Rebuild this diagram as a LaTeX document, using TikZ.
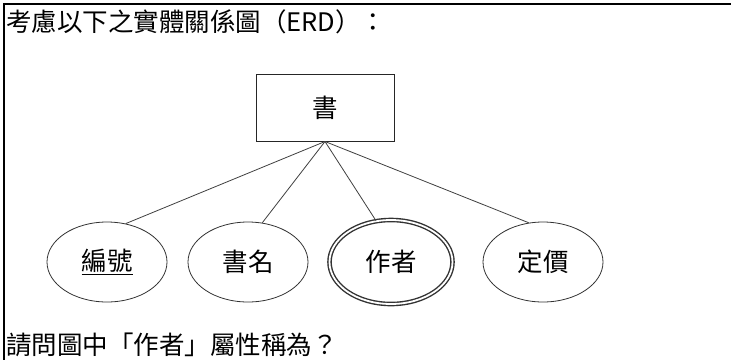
\documentclass[tikz,border=0pt]{standalone}
\usepackage{fontspec}
\newfontfamily\cjk{Noto Sans CJK TC}
\usetikzlibrary{shapes.geometric}
\tikzset{
  txt/.style={font=\cjk\fontsize{25.5}{27}\selectfont, inner sep=0pt, text=black},
  entity/.style={draw=black!85, line width=1pt, minimum width=138, minimum height=67, inner sep=0pt, font=\cjk\fontsize{25.5}{27}\selectfont},
  attr/.style={ellipse, draw=black!80, line width=0.8pt, minimum width=120, minimum height=80, inner sep=0pt, font=\cjk\fontsize{25.5}{27}\selectfont},
  multiattr/.style={attr, double, double distance=1.8pt, line width=1.4pt, minimum width=123, minimum height=84},
  conn/.style={draw=black!75, line width=0.8pt},
  frame/.style={draw=black, line width=1.6pt}
}
\begin{document}
\begin{tikzpicture}[x=1pt,y=-1pt]
\useasboundingbox (0,0) rectangle (731,360);
\fill[white] (0,0) rectangle (731,360);
\coordinate (fTR) at (731,4);
\coordinate (fTL) at (4,4);
\coordinate (fBL) at (4,360);
\draw[frame] (fTR) -- (fTL) -- (fBL);
\node[txt, anchor=west] (title) at (6,22) {考慮以下之實體關係圖（ERD）：};
\node[entity] (book) at (325,107.5) {書};
\node[attr] (a1) at (107,262) {\underline{編號}};
\node[attr] (a2) at (248,262) {書名};
\node[multiattr] (a3) at (391,262) {作者};
\node[attr] (a4) at (543,262) {定價};
\draw[conn] (book.south) -- (a1.64);
\draw[conn] (book.south) -- (a2.70);
\draw[conn] (book.south) -- (a3.110);
\draw[conn] (book.south) -- (a4.110);
\node[txt, anchor=west] (q) at (6,345) {請問圖中「作者」屬性稱為？};
\end{tikzpicture}
\end{document}
